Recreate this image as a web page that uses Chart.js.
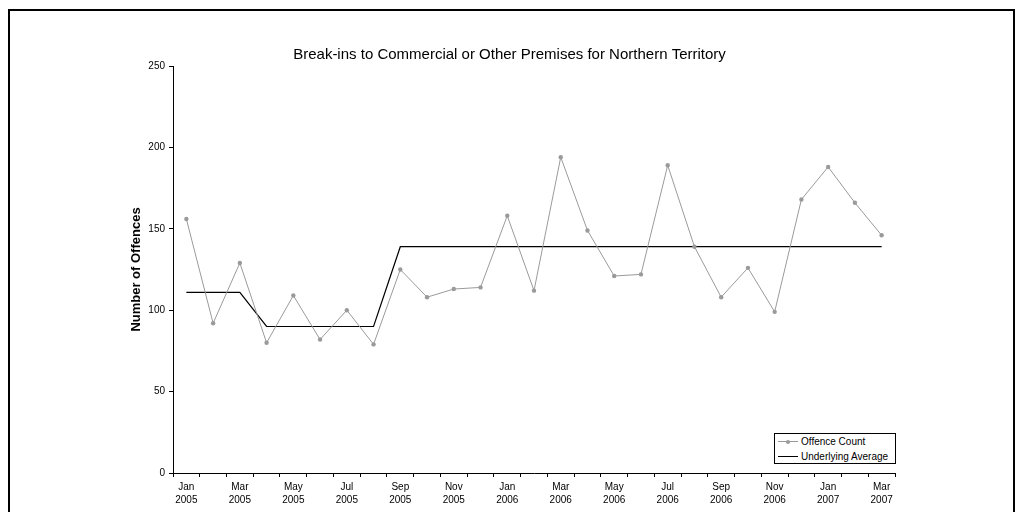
<!DOCTYPE html>
<html>
<head>
<meta charset="utf-8">
<script src="https://cdn.jsdelivr.net/npm/chart.js@4"></script>
<style>
    html, body { margin: 0; padding: 0; background: #fff; }
    #wrap { position: relative; width: 1019px; height: 512px; overflow: hidden; font-family: "Liberation Sans", Arial, sans-serif; }
    #frame { position: absolute; left: 8px; top: 9px; width: 1003px; height: 600px; border: 2px solid #000; }
    #chart { position: absolute; left: 0; top: 0; }
    #legend { position: absolute; left: 774px; top: 433px; width: 120px; height: 29px; border: 1px solid #000; background: #fff; font-size: 10px; }
    #legend div { position: relative; height: 15px; line-height: 15px; padding-left: 26px; white-space: nowrap; }
    #legend .sample { position: absolute; left: 3px; top: 7px; width: 20px; height: 0; }
    #legend .dot { position: absolute; left: 8px; top: -2px; width: 4px; height: 4px; border-radius: 50%; background: #9a9a9a; }
</style>
</head>
<body>
<div id="wrap">
    <div id="frame"></div>
    <canvas id="chart" width="1019" height="512"></canvas>
    <div id="legend"></div>
</div>
<script>
// Mois de Jan 2005 à Mar 2007
const months = ["Jan", "Feb", "Mar", "Apr", "May", "Jun", "Jul", "Aug", "Sep", "Oct", "Nov", "Dec",
                "Jan", "Feb", "Mar", "Apr", "May", "Jun", "Jul", "Aug", "Sep", "Oct", "Nov", "Dec",
                "Jan", "Feb", "Mar"];
const years = ["2005", "2005", "2005", "2005", "2005", "2005", "2005", "2005", "2005", "2005", "2005", "2005",
               "2006", "2006", "2006", "2006", "2006", "2006", "2006", "2006", "2006", "2006", "2006", "2006",
               "2007", "2007", "2007"];

const offenceCount = [156, 92, 129, 80, 109, 82, 100, 79, 125, 108, 113, 114,
                      158, 112, 194, 149, 121, 122, 189, 139, 108, 126, 99, 168,
                      188, 166, 146];
const underlyingAverage = [111, 111, 111, 90, 90, 90, 90, 90, 139, 139, 139, 139,
                           139, 139, 139, 139, 139, 139, 139, 139, 139, 139, 139, 139,
                           139, 139, 139];

const yTicks = [0, 50, 100, 150, 200, 250];

const seriesNames = ["Offence Count", "Underlying Average"];
const countColor = "#9a9a9a";
const avgColor = "#000000";

document.addEventListener("DOMContentLoaded", () => {
    const ctx = document.getElementById("chart").getContext("2d");
    Chart.defaults.font.family = '"Liberation Sans", Arial, sans-serif';
    Chart.defaults.color = "#000";

    const labels = months.map((m, i) => m + " " + years[i]);

    new Chart(ctx, {
        type: "line",
        data: {
            labels: labels,
            datasets: [{
                label: seriesNames[0],
                data: offenceCount,
                borderColor: countColor,
                backgroundColor: countColor,
                borderWidth: 1,
                pointRadius: 2.2,
                pointBorderWidth: 0,
                tension: 0
            }, {
                label: seriesNames[1],
                data: underlyingAverage,
                borderColor: avgColor,
                borderWidth: 1.2,
                pointRadius: 0,
                tension: 0
            }]
        },
        options: {
            responsive: false,
            animation: false,
            layout: { padding: { top: 10, left: 10, right: 10, bottom: 0 } },
            plugins: {
                legend: { display: false },
                tooltip: { enabled: false },
                title: {
                    display: true,
                    text: "Break-ins to Commercial or Other Premises for Northern Territory",
                    font: { size: 15, weight: "normal" },
                    padding: { top: 36, bottom: 2 }
                }
            },
            scales: {
                x: {
                    offset: true,
                    grid: { offset: true, drawOnChartArea: false, color: "#000", tickLength: 4 },
                    border: { color: "#000", width: 1 },
                    ticks: {
                        autoSkip: false,
                        maxRotation: 0,
                        padding: 4,
                        font: { size: 10, lineHeight: 1.3 },
                        callback: (v, i) => i % 2 === 0 ? [months[i], years[i]] : ""
                    },
                    afterFit: (s) => { s.height = 39; }
                },
                y: {
                    min: 0,
                    max: 250,
                    afterBuildTicks: (s) => { s.ticks = yTicks.map(v => ({ value: v })); },
                    grid: { drawOnChartArea: false, color: "#000", tickLength: 4 },
                    border: { color: "#000", width: 1 },
                    ticks: { padding: 4, font: { size: 10 } },
                    title: {
                        display: true,
                        text: "Number of Offences",
                        font: { size: 13, weight: "bold" },
                        padding: { top: 119, bottom: 0 }
                    },
                    afterFit: (s) => { s.width = 163; }
                },
                y2: {
                    position: "right",
                    display: true,
                    grid: { display: false },
                    border: { display: false },
                    ticks: { display: false },
                    afterFit: (s) => { s.width = 114; }
                }
            }
        }
    });

    // Légende HTML en bas à droite de la zone du graphique
    const legend = document.getElementById("legend");
    legend.innerHTML =
        '<div><span class="sample" style="border-top:1px solid ' + countColor + '"><span class="dot"></span></span>' + seriesNames[0] + '</div>' +
        '<div><span class="sample" style="border-top:1.5px solid ' + avgColor + '"></span>' + seriesNames[1] + '</div>';
});
</script>
</body>
</html>
